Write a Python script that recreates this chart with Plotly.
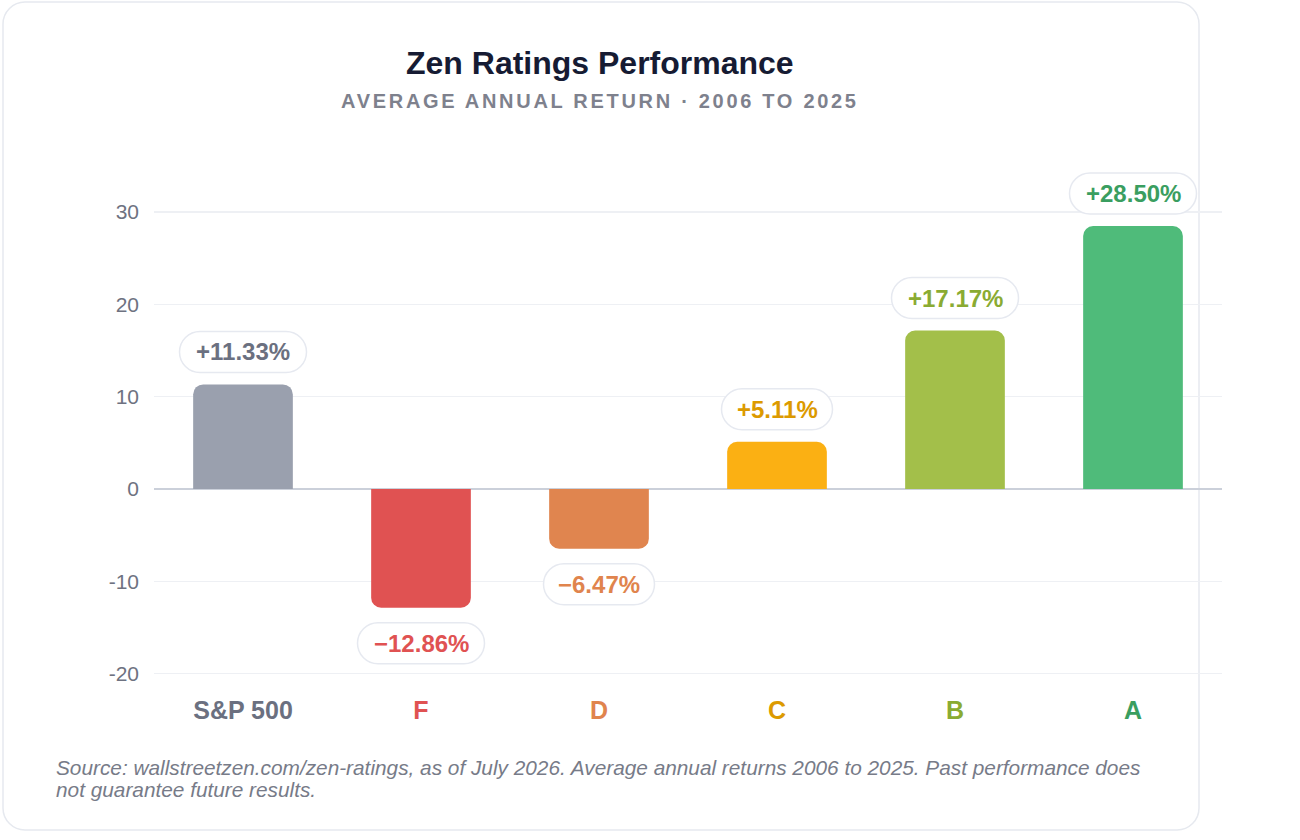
import plotly.graph_objects as go

# ---- data ----
categories = ["S&P 500", "F", "D", "C", "B", "A"]
returns = [11.33, -12.86, -6.47, 5.11, 17.17, 28.50]
y_tick_vals = [-20, -10, 0, 10, 20, 30]
y_tick_text = ["-20", "-10", "0", "10", "20", "30"]
footnote_lines = [
    "Source: wallstreetzen.com/zen-ratings, as of July 2026. Average annual returns 2006 to 2025. Past performance does",
    "not guarantee future results.",
]

# ---- styles ----
bar_colors = ["#9aa0ae", "#e05252", "#e0854f", "#fbb013", "#a3bf4a", "#4fbb7a"]
text_colors = ["#6b7080", "#e05252", "#e0844d", "#dc9a00", "#8aab32", "#3a9e60"]
FONT = "Liberation Sans, Arial, sans-serif"

W, H = 1300, 840
ML, MR, MT, MB = 154, 78, 166, 148
PW, PH = W - ML - MR, H - MT - MB


def px_x(px):
    return (px - ML) / PW


def px_y(py):
    return (H - MB - py) / PH


def fmt(v):
    return f"{v:+.2f}%".replace("-", "\u2212")


labels = [fmt(v) for v in returns]

fig = go.Figure()
fig.add_trace(go.Bar(
    x=categories, y=returns, width=0.56,
    marker=dict(color=bar_colors, cornerradius=10, line=dict(width=0)),
    hoverinfo="skip",
))

shapes = []
annotations = []

# card background (rounded rect) in pixel coords -> paper
cx0, cy0, cx1, cy1, cr = 3, 2, 1199, 830, 22
k = 0.5523 * cr


def P(x, y):
    return f"{px_x(x):.6f},{px_y(y):.6f}"


card_path = (
    f"M {P(cx0 + cr, cy0)} L {P(cx1 - cr, cy0)} "
    f"C {P(cx1 - cr + k, cy0)} {P(cx1, cy0 + cr - k)} {P(cx1, cy0 + cr)} "
    f"L {P(cx1, cy1 - cr)} "
    f"C {P(cx1, cy1 - cr + k)} {P(cx1 - cr + k, cy1)} {P(cx1 - cr, cy1)} "
    f"L {P(cx0 + cr, cy1)} "
    f"C {P(cx0 + cr - k, cy1)} {P(cx0, cy1 - cr + k)} {P(cx0, cy1 - cr)} "
    f"L {P(cx0, cy0 + cr)} "
    f"C {P(cx0, cy0 + cr - k)} {P(cx0 + cr - k, cy0)} {P(cx0 + cr, cy0)} Z"
)
shapes.append(dict(type="path", xref="paper", yref="paper", path=card_path,
                   fillcolor="white", line=dict(color="#e6e9ef", width=1.5),
                   layer="below"))

# value pills
for cat, v, lab, tc in zip(categories, returns, labels, text_colors):
    w = 16 * len(lab) + 15
    h = 41
    r = h / 2
    kk = 0.5523 * r
    if v >= 0:
        yb, yt = 12, 12 + h
    else:
        yb, yt = -15 - h, -15
    xl, xr = -w / 2, w / 2
    path = (
        f"M {xl + r},{yb} L {xr - r},{yb} "
        f"C {xr - r + kk},{yb} {xr},{yb + r - kk} {xr},{yb + r} "
        f"C {xr},{yb + r + kk} {xr - r + kk},{yt} {xr - r},{yt} "
        f"L {xl + r},{yt} "
        f"C {xl + r - kk},{yt} {xl},{yt - r + kk} {xl},{yt - r} "
        f"C {xl},{yt - r - kk} {xl + r - kk},{yb} {xl + r},{yb} Z"
    )
    shapes.append(dict(type="path", xref="x", yref="y",
                       xsizemode="pixel", ysizemode="pixel",
                       xanchor=cat, yanchor=v, path=path,
                       fillcolor="white", line=dict(color="#e6e9f0", width=1.5),
                       layer="above"))
    annotations.append(dict(x=cat, y=v, xref="x", yref="y", text=lab,
                            showarrow=False, yshift=(yb + yt) / 2,
                            font=dict(family=FONT, size=24, color=tc, weight="bold"),
                            xanchor="center", yanchor="middle"))

# title & subtitle
annotations.append(dict(x=px_x(600), y=px_y(63), xref="paper", yref="paper",
                        text="Zen Ratings Performance", showarrow=False,
                        xanchor="center", yanchor="middle",
                        font=dict(family=FONT, size=32, color="#161b33", weight="bold")))
annotations.append(dict(x=px_x(600), y=px_y(101), xref="paper", yref="paper",
                        text='<span style="letter-spacing:2.7px">AVERAGE ANNUAL RETURN · 2006 TO 2025</span>',
                        showarrow=False, xanchor="center", yanchor="middle",
                        font=dict(family=FONT, size=20, color="#7e818d", weight="bold")))

# footnote (one annotation per line for exact line spacing)
for i, line in enumerate(footnote_lines):
    annotations.append(dict(x=px_x(54), y=px_y(767 + 22 * i), xref="paper", yref="paper",
                            text=line, showarrow=False, xanchor="left", yanchor="middle",
                            align="left",
                            font=dict(family=FONT, size=20.8, color="#777b88", style="italic")))

x_tick_text = [f'<span style="color:{c}">{t}</span>' for t, c in zip(categories, text_colors)]

fig.update_layout(
    width=W, height=H,
    margin=dict(l=ML, r=MR, t=MT, b=MB, pad=0),
    paper_bgcolor="white", plot_bgcolor="rgba(0,0,0,0)",
    showlegend=False, bargap=0.44,
    shapes=shapes, annotations=annotations,
    font=dict(family=FONT),
    xaxis=dict(tickmode="array", tickvals=categories, ticktext=x_tick_text,
               tickfont=dict(family=FONT, size=25, weight="bold"),
               showgrid=False, showline=False, zeroline=False, ticks="",
               ticklabelstandoff=1, fixedrange=True),
    yaxis=dict(range=[-22, 35], tickmode="array", tickvals=y_tick_vals,
               ticktext=y_tick_text,
               tickfont=dict(family=FONT, size=21, color="#6e7281"),
               showgrid=True, gridcolor="#eef0f4", gridwidth=1.5,
               zeroline=True, zerolinecolor="#cbd0da", zerolinewidth=2.5,
               showline=False, ticks="", ticklabelstandoff=14, fixedrange=True),
)

fig.write_html("out.html", config={"displayModeBar": False, "staticPlot": True})
